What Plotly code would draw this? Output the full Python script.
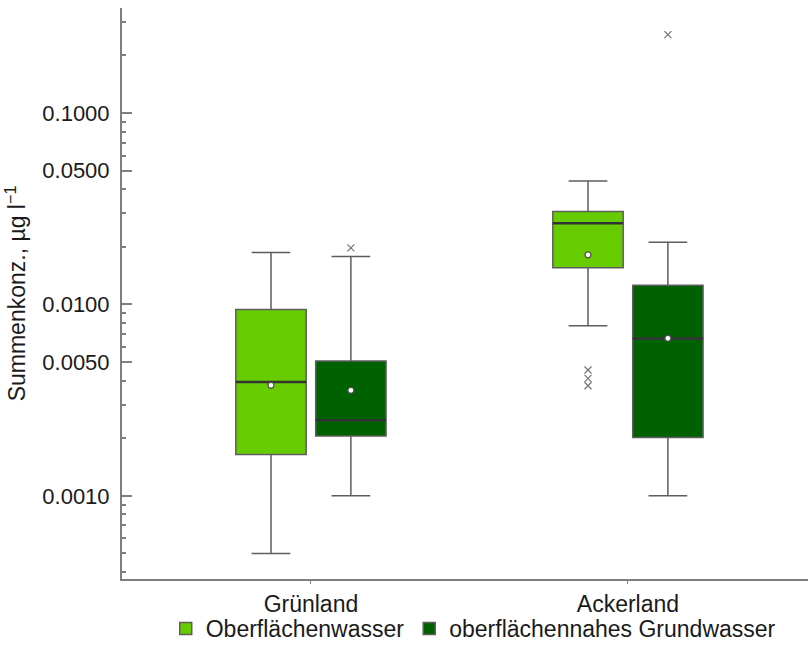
import plotly.graph_objects as go

categories = ["Grünland", "Ackerland"]
series_names = ["Oberflächenwasser", "oberflächennahes Grundwasser"]

# precomputed box statistics (µg/l), per series, per category
ow_lower = [0.000500, 0.00774]
ow_q1 = [0.001644, 0.01553]
ow_median = [0.003932, 0.02655]
ow_q3 = [0.00942, 0.03056]
ow_upper = [0.01867, 0.04418]
ow_mean = [0.003779, 0.01816]
ow_outliers = [[], [0.004544, 0.004111, 0.003757]]

gw_lower = [0.001, 0.001]
gw_q1 = [0.002056, 0.002017]
gw_median = [0.002482, 0.006646]
gw_q3 = [0.00506, 0.01261]
gw_upper = [0.01780, 0.02113]
gw_mean = [0.003558, 0.00665]
gw_outliers = [[0.01976], [0.2570]]

y_tickvals = [0.0005, 0.001, 0.005, 0.01, 0.05, 0.1]
y_ticktext = ["", "0.0010", "0.0050", "0.0100", "0.0500", "0.1000"]

colors = ["#66CC00", "#006100"]
offsets = [-0.126, 0.126]
box_width = 0.222

series = [
    (ow_lower, ow_q1, ow_median, ow_q3, ow_upper, ow_mean, ow_outliers),
    (gw_lower, gw_q1, gw_median, gw_q3, gw_upper, gw_mean, gw_outliers),
]

fig = go.Figure()
for s, (lo, q1, med, q3, up, mean, outl) in enumerate(series):
    xs = [i + offsets[s] for i in range(len(categories))]
    fig.add_trace(go.Box(
        x=xs, q1=q1, median=med, q3=q3, lowerfence=lo, upperfence=up,
        name=series_names[s], fillcolor=colors[s],
        line=dict(color="#5e5e5e", width=1.5),
        width=box_width, whiskerwidth=0.55, boxpoints=False,
        showlegend=True,
    ))
    # darker median line overlay
    mx, my = [], []
    for i in range(len(categories)):
        mx += [xs[i] - box_width / 2, xs[i] + box_width / 2, None]
        my += [med[i], med[i], None]
    fig.add_trace(go.Scatter(
        x=mx, y=my, mode="lines", showlegend=False, hoverinfo="skip",
        line=dict(color="#333333", width=2.5),
    ))
    fig.add_trace(go.Scatter(
        x=xs, y=mean, mode="markers", showlegend=False, hoverinfo="skip",
        marker=dict(symbol="circle", size=6, color="white",
                    line=dict(color="#4d4d4d", width=1.2)),
    ))
    ox, oy = [], []
    for i, vals in enumerate(outl):
        for v in vals:
            ox.append(xs[i])
            oy.append(v)
    fig.add_trace(go.Scatter(
        x=ox, y=oy, mode="markers", showlegend=False, hoverinfo="skip",
        marker=dict(symbol="x-thin-open", size=7, color="#777777",
                    line=dict(color="#777777", width=1.3)),
    ))

minor_vals = [m * 10.0 ** e for e in range(-4, 0) for m in range(1, 10)]

fig.update_layout(
    width=809, height=650,
    margin=dict(l=122, r=1, t=8, b=70),
    paper_bgcolor="white", plot_bgcolor="white",
    font=dict(family="Liberation Sans, Arial, sans-serif", size=23, color="#1a1a1a"),
    showlegend=True,
    legend=dict(orientation="h", x=0.512, xanchor="center", y=-0.1224, yanchor="bottom",
                bgcolor="rgba(0,0,0,0)",
                font=dict(size=23), itemwidth=30, traceorder="normal"),
    xaxis=dict(
        range=[-0.596, 1.568], tickvals=[0, 1], ticktext=categories,
        showline=True, linecolor="#7f7f7f", linewidth=2,
        ticks="outside", ticklen=3, tickcolor="#7f7f7f",
        tickfont=dict(size=23),
        showgrid=False, zeroline=False, automargin=False,
    ),
    yaxis=dict(
        type="log", range=[-3.4345, -0.451],
        tickvals=y_tickvals, ticktext=y_ticktext,
        showline=True, linecolor="#7f7f7f", linewidth=2,
        ticks="inside", ticklen=10, tickcolor="#7f7f7f", tickwidth=1.5,
        ticklabelstandoff=6, tickfont=dict(size=22),
        minor=dict(tickmode="array", tickvals=minor_vals, ticks="inside",
                   ticklen=4, tickcolor="#7f7f7f", showgrid=False),
        showgrid=False, zeroline=False, automargin=False,
        title=dict(text="Summenkonz., µg l<sup>−1</sup>", standoff=10,
                   font=dict(size=23)),
    ),
)

fig.write_html(
    "out.html",
    config={"displayModeBar": False},
    post_script="document.body.style.margin='0px';",
)
